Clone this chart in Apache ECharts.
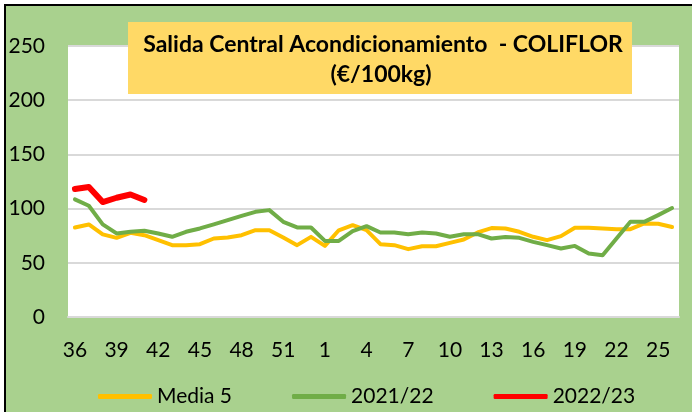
<!DOCTYPE html>
<html lang="es">
<head>
    <meta charset="UTF-8">
    <title>Coliflor</title>
    <style>
        html, body { margin: 0; padding: 0; background: #fff; overflow: hidden; }
        /* fondo verde con borde negro arriba/izquierda */
        #bg {
            position: absolute; left: 4px; top: 4px;
            width: 720px; height: 440px;
            background: #a9d18e;
            border: 2px solid #000;
        }
        #main {
            position: absolute; left: 0; top: 0;
            width: 692px; height: 412px;
        }
    </style>
</head>
<body>
<div id="bg"></div>
<div id="main"></div>
<script src="https://cdn.jsdelivr.net/npm/echarts@6/dist/echarts.min.js"></script>
<script>
    // semanas de campaña: 36..53 y 1..26
    const semanas = [];
    for (let s = 36; s <= 53; s++) semanas.push(String(s));
    for (let s = 1; s <= 26; s++) semanas.push(String(s));

    // Media 5 campañas
    const media5 = [82.6, 85.4, 76.2, 73, 77.6, 75.5, 70.9, 66.3, 66.3, 67.2,
        72.4, 73.4, 75.5, 80.1, 80.1, 73.4, 66.3, 73.9, 65.6, 80,
        84.7, 80.1, 67.2, 66.3, 62.6, 65.3, 65.3, 68.4, 71.5, 78,
        82, 81.7, 78.6, 74, 70.9, 74.6, 82.3, 82.3, 81.7, 81,
        81, 86.3, 86, 83];

    // campaña 2021/22
    const c2122 = [108.5, 102.6, 85.4, 77.1, 78.6, 79.5, 77, 74, 78.6, 81.7,
        85.4, 89.4, 93.3, 97, 98.6, 87.8, 82.6, 82.6, 70.2, 70.2,
        79.2, 83.8, 78, 78, 76.4, 78, 77, 74, 76.4, 76.4,
        72.4, 73.7, 73, 69.3, 66.3, 63.2, 65.6, 58.6, 57, 72.4,
        87.8, 87.8, 94, 100.5];

    // campaña 2022/23 (en curso)
    const c2223 = [118, 120, 106, 110, 113, 108];

    const yTicks = [0, 50, 100, 150, 200, 250];

    const font = 'Lato, "Open Sans", sans-serif';

    const myChart = echarts.init(document.getElementById('main'), null, {renderer: 'canvas'});

    const option = {
        backgroundColor: 'transparent',
        animation: false,
        textStyle: {fontFamily: font},
        grid: {
            left: 68, right: 13, top: 46, bottom: 95,
            show: true, backgroundColor: '#fff', borderWidth: 0
        },
        legend: {
            left: 93, top: 381,
            itemWidth: 54, itemHeight: 5, itemGap: 60,
            icon: 'roundRect',
            textStyle: {fontSize: 21, color: '#000', fontFamily: font},
            data: ['Media 5', '2021/22', '2022/23']
        },
        graphic: [
            {
                type: 'rect', z: 50,
                shape: {x: 128, y: 22, width: 504, height: 72},
                style: {fill: '#ffd966'}
            },
            {
                type: 'text', z: 51, x: 383, y: 45,
                style: {
                    text: 'Salida Central Acondicionamiento  - COLIFLOR',
                    font: 'bold 23px ' + font, fill: '#000',
                    align: 'center', verticalAlign: 'middle'
                }
            },
            {
                type: 'text', z: 51, x: 381, y: 75,
                style: {
                    text: '(€/100kg)',
                    font: 'bold 23px ' + font, fill: '#000',
                    align: 'center', verticalAlign: 'middle'
                }
            }
        ],
        xAxis: {
            type: 'category',
            data: semanas,
            boundaryGap: true,
            axisTick: {show: false},
            axisLine: {lineStyle: {color: '#d9d9d9', width: 2}},
            axisLabel: {interval: 2, margin: 23, fontSize: 21, color: '#000'}
        },
        yAxis: {
            type: 'value',
            min: yTicks[0], max: yTicks[yTicks.length - 1], interval: 50,
            axisLine: {show: false},
            axisTick: {show: false},
            splitLine: {lineStyle: {color: '#d9d9d9', width: 2}},
            axisLabel: {margin: 23, fontSize: 21, color: '#000'}
        },
        series: [
            {
                name: 'Media 5', type: 'line', data: media5,
                symbol: 'none', z: 2,
                itemStyle: {color: '#ffc000'},
                lineStyle: {color: '#ffc000', width: 4, cap: 'round', join: 'round'}
            },
            {
                name: '2021/22', type: 'line', data: c2122,
                symbol: 'none', z: 3,
                itemStyle: {color: '#70ad47'},
                lineStyle: {color: '#70ad47', width: 4, cap: 'round', join: 'round'}
            },
            {
                name: '2022/23', type: 'line', data: c2223,
                symbol: 'none', z: 4,
                itemStyle: {color: '#ff0000'},
                lineStyle: {color: '#ff0000', width: 6, cap: 'round', join: 'round'}
            }
        ]
    };

    myChart.setOption(option);
</script>
</body>
</html>
